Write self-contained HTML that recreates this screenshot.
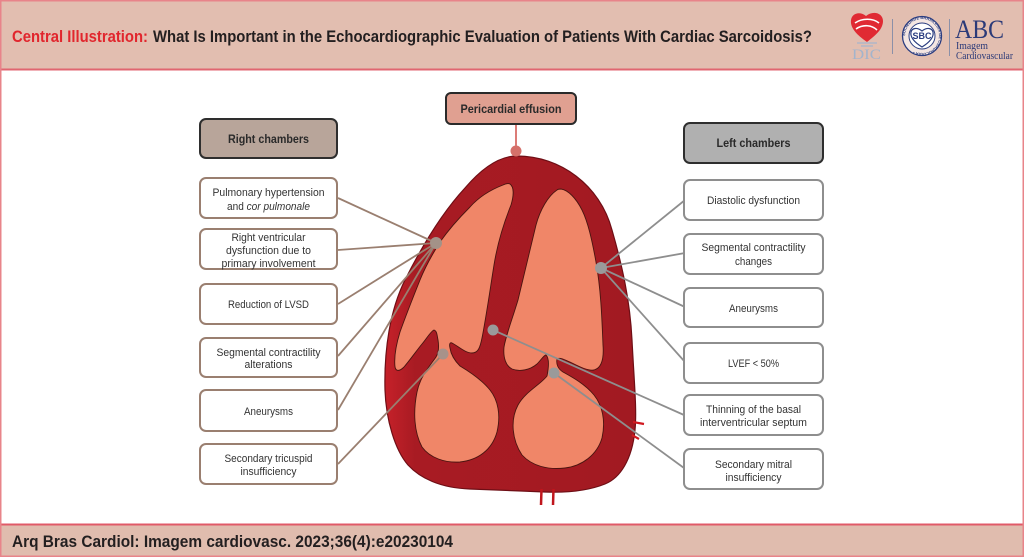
<!DOCTYPE html>
<html>
<head>
<meta charset="utf-8">
<style>
html,body{margin:0;padding:0;background:#fff;}
body{width:1024px;height:557px;overflow:hidden;}
svg{display:block;}
</style>
</head>
<body>
<svg width="1024" height="557" viewBox="0 0 1024 557" xmlns="http://www.w3.org/2000/svg" font-family="'Liberation Sans', sans-serif">
  <defs>
    <linearGradient id="hg" x1="0" y1="0" x2="1" y2="0">
      <stop offset="0" stop-color="#c62129"/>
      <stop offset="0.12" stop-color="#a81b23"/>
      <stop offset="1" stop-color="#a21a22"/>
    </linearGradient>
    <path id="ring" d="M905,36 A17,17 0 1,1 939,36 A17,17 0 1,1 905,36"/>
  </defs>

  <!-- background & frame -->
  <rect x="0" y="0" width="1024" height="557" fill="#fff"/>
  <rect x="0" y="0" width="1024" height="69" fill="#e2beb0"/>
  <line x1="0" y1="69.5" x2="1024" y2="69.5" stroke="#e06670" stroke-width="2"/>
  <rect x="0" y="525" width="1024" height="32" fill="#e0bcae"/>
  <line x1="0" y1="524.5" x2="1024" y2="524.5" stroke="#e05a68" stroke-width="2"/>
  <rect x="0.75" y="0.75" width="1022.5" height="555.5" fill="none" stroke="#e8848a" stroke-width="1.5"/>

  <!-- title -->
  <text x="12" y="42" font-size="17" font-weight="bold" fill="#e1262d" textLength="136" lengthAdjust="spacingAndGlyphs">Central Illustration:</text>
  <text x="153" y="42" font-size="17" font-weight="bold" fill="#231f20" textLength="659" lengthAdjust="spacingAndGlyphs">What Is Important in the Echocardiographic Evaluation of Patients With Cardiac Sarcoidosis?</text>

  <!-- logos -->
  <path d="M867,42 C857,35 850,28 851,20 C852,13 860,11 866,16 C873,10 883,13 883,21 C883,29 876,35 867,42 Z" fill="#e02a33"/>
  <path d="M855,23 C862,18 873,18 879,23 M856,29 C863,24 872,25 877,30" stroke="#fff" stroke-width="1.6" fill="none"/>
  <path d="M857,43 L877,43 M861,46 L873,46" stroke="#a6b5cc" stroke-width="1.2"/>
  <text x="852" y="59" font-family="'Liberation Serif', serif" font-size="15" fill="#a3b4cc" textLength="29" lengthAdjust="spacingAndGlyphs">DIC</text>
  <line x1="892.5" y1="19" x2="892.5" y2="54" stroke="#8b90a8" stroke-width="1"/>
  <circle cx="922" cy="36" r="19.5" fill="#f4e6e2" stroke="#2b3d80" stroke-width="1.3"/>
  <circle cx="922" cy="36" r="13" fill="#fff" stroke="#2b3d80" stroke-width="1"/>
  <text font-size="4" font-weight="bold" fill="#2b3d80"><textPath href="#ring">SOCIEDADE BRASILEIRA DE CARDIOLOGIA •</textPath></text>
  <path d="M922,47 C914,42 910,37 911,32 C912,28 917,27 922,31 C927,27 932,28 933,32 C934,37 930,42 922,47 Z" fill="none" stroke="#2b3d80" stroke-width="1.2"/>
  <text x="922" y="39" font-size="9" font-weight="bold" fill="#2b3d80" text-anchor="middle">SBC</text>
  <line x1="949.5" y1="19" x2="949.5" y2="56" stroke="#8b90a8" stroke-width="1"/>
  <text x="955" y="38" font-family="'Liberation Serif', serif" font-size="26" fill="#2b3a78" textLength="49" lengthAdjust="spacingAndGlyphs">ABC</text>
  <text x="956" y="49" font-family="'Liberation Serif', serif" font-size="10" fill="#2b3a78" textLength="32" lengthAdjust="spacingAndGlyphs">Imagem</text>
  <text x="956" y="59" font-family="'Liberation Serif', serif" font-size="10" fill="#2b3a78" textLength="57" lengthAdjust="spacingAndGlyphs">Cardiovascular</text>

  <!-- footer -->
  <text x="12" y="547" font-size="17" font-weight="bold" fill="#231f20" textLength="441" lengthAdjust="spacingAndGlyphs">Arq Bras Cardiol: Imagem cardiovasc. 2023;36(4):e20230104</text>

  <!-- heart -->
  <path d="M517,156 C560,156 600,185 612,230 C622,265 630,300 632,340 C634,380 637,410 635,430 C632,460 620,478 605,484 C590,490 570,493 545,492 C520,491 500,490 470,489 C440,488 420,478 408,465 C395,450 386,420 385,390 C384,350 390,310 405,280 C420,250 440,215 465,188 C482,168 500,156 517,156 Z" fill="url(#hg)" stroke="#6e0e15" stroke-width="1.2"/>
  <!-- vessels -->
  <path d="M541.5,489 L541,505 M553.5,489 L553,505" stroke="#c0161d" stroke-width="2.5"/>
  <path d="M633,422 L644,424 M632,435 L639,439" stroke="#d0181f" stroke-width="2.2"/>

  <!-- right ventricle + atrium (left in image) -->
  <path d="M503,185 C490,190 478,198 470,207 C455,222 447,232 440,242 C430,258 424,270 420,280 C412,300 405,318 400,332 C396,345 394,358 395,367 C396,372 400,371 404,367 C410,360 417,350 422,344 C427,338 431,331 434,330 C437,331 437,335 438,340 C439,346 439,352 436,357 C429,367 420,377 417,392 C413,412 414,432 422,447 C430,458 445,463 460,462 C478,460 492,450 497,432 C501,415 498,400 490,390 C482,380 470,372 460,366 C455,361 451,355 450,348 C449,344 450,342 452,343 C458,346 465,353 472,353 C478,353 480,348 482,338 C486,318 490,290 494,265 C498,240 505,220 511,205 C514,195 514,187 510,184 C508,183 505,184 503,185 Z" fill="#f08668" stroke="#4a1410" stroke-width="0.9"/>
  <!-- left ventricle + atrium (right in image) -->
  <path d="M557,190 C548,196 540,210 536,225 C530,250 524,275 518,300 C512,320 506,335 504,347 C503,358 506,366 512,369 C520,372 530,370 537,364 C541,360 544,355 546,355 C549,358 549,366 547,376 C540,385 525,392 518,405 C510,420 512,440 522,455 C532,466 548,470 565,468 C582,466 597,455 602,438 C606,420 602,405 594,395 C585,384 572,377 563,372 C558,369 556,364 557,359 C560,357 565,360 572,363 C580,367 588,371 594,370 C602,368 604,358 603,345 C602,320 601,290 596,262 C592,240 588,222 582,210 C576,198 568,190 561,189 C559,189 558,189 557,190 Z" fill="#f08668" stroke="#4a1410" stroke-width="0.9"/>

  <!-- connectors left -->
  <g stroke="#9a7f70" stroke-width="1.8" fill="none">
    <line x1="338" y1="198" x2="436" y2="243"/>
    <line x1="338" y1="250" x2="436" y2="243"/>
    <line x1="338" y1="304" x2="436" y2="243"/>
    <line x1="338" y1="356" x2="436" y2="243"/>
    <line x1="338" y1="410" x2="436" y2="243"/>
    <line x1="338" y1="464" x2="443" y2="354"/>
  </g>
  <!-- connectors right -->
  <g stroke="#8e8e8e" stroke-width="1.8" fill="none">
    <line x1="685" y1="200" x2="601" y2="268"/>
    <line x1="685" y1="253" x2="601" y2="268"/>
    <line x1="685" y1="307" x2="601" y2="268"/>
    <line x1="685" y1="362" x2="601" y2="268"/>
    <line x1="684" y1="415" x2="493" y2="330"/>
    <line x1="684" y1="468" x2="554" y2="373"/>
  </g>
  <!-- pericardial connector -->
  <line x1="516" y1="124" x2="516" y2="151" stroke="#d86e68" stroke-width="1.8"/>
  <circle cx="516" cy="151" r="5.5" fill="#d5706a"/>
  <!-- dots -->
  <circle cx="436" cy="243" r="6" fill="#a39288"/>
  <circle cx="443" cy="354" r="5.5" fill="#a8928a"/>
  <circle cx="493" cy="330" r="5.5" fill="#9a9a9a"/>
  <circle cx="554" cy="373" r="5.5" fill="#9a9a9a"/>
  <circle cx="601" cy="268" r="6" fill="#9a9a9a"/>

  <!-- header boxes -->
  <rect x="446" y="93" width="130" height="31" rx="5" fill="#e0a091" stroke="#2a2a2a" stroke-width="2"/>
  <text x="511" y="113" font-size="12" font-weight="bold" fill="#2a2a2a" text-anchor="middle" textLength="101" lengthAdjust="spacingAndGlyphs">Pericardial effusion</text>

  <rect x="200" y="119" width="137" height="39" rx="6" fill="#b8a59a" stroke="#2e2e2e" stroke-width="2"/>
  <text x="268.5" y="143" font-size="12" font-weight="bold" fill="#2a2a2a" text-anchor="middle" textLength="81" lengthAdjust="spacingAndGlyphs">Right chambers</text>

  <rect x="684" y="123" width="139" height="40" rx="6" fill="#b0b0b0" stroke="#2e2e2e" stroke-width="2"/>
  <text x="753.5" y="147" font-size="12" font-weight="bold" fill="#2a2a2a" text-anchor="middle" textLength="74" lengthAdjust="spacingAndGlyphs">Left chambers</text>

  <!-- left boxes -->
  <g fill="#fff" stroke="#9a7f70" stroke-width="2">
    <rect x="200" y="178" width="137" height="40" rx="6"/>
    <rect x="200" y="229" width="137" height="40" rx="6"/>
    <rect x="200" y="284" width="137" height="40" rx="6"/>
    <rect x="200" y="338" width="137" height="39" rx="6"/>
    <rect x="200" y="390" width="137" height="41" rx="6"/>
    <rect x="200" y="444" width="137" height="40" rx="6"/>
  </g>
  <g font-size="11" fill="#333" text-anchor="middle">
    <text x="268.5" y="196" textLength="112" lengthAdjust="spacingAndGlyphs">Pulmonary hypertension</text>
    <text x="268.5" y="210" textLength="83" lengthAdjust="spacingAndGlyphs">and <tspan font-style="italic">cor pulmonale</tspan></text>
    <text x="268.5" y="241" textLength="74" lengthAdjust="spacingAndGlyphs">Right ventricular</text>
    <text x="268.5" y="254" textLength="85" lengthAdjust="spacingAndGlyphs">dysfunction due to</text>
    <text x="268.5" y="267" textLength="94" lengthAdjust="spacingAndGlyphs">primary involvement</text>
    <text x="268.5" y="308" textLength="81" lengthAdjust="spacingAndGlyphs">Reduction of LVSD</text>
    <text x="268.5" y="356" textLength="104" lengthAdjust="spacingAndGlyphs">Segmental contractility</text>
    <text x="268.5" y="368" textLength="48" lengthAdjust="spacingAndGlyphs">alterations</text>
    <text x="268.5" y="415" textLength="49" lengthAdjust="spacingAndGlyphs">Aneurysms</text>
    <text x="268.5" y="462" textLength="88" lengthAdjust="spacingAndGlyphs">Secondary tricuspid</text>
    <text x="268.5" y="475" textLength="56" lengthAdjust="spacingAndGlyphs">insufficiency</text>
  </g>

  <!-- right boxes -->
  <g fill="#fff" stroke="#8e8e8e" stroke-width="2">
    <rect x="684" y="180" width="139" height="40" rx="6"/>
    <rect x="684" y="234" width="139" height="40" rx="6"/>
    <rect x="684" y="288" width="139" height="39" rx="6"/>
    <rect x="684" y="343" width="139" height="40" rx="6"/>
    <rect x="684" y="395" width="139" height="40" rx="6"/>
    <rect x="684" y="449" width="139" height="40" rx="6"/>
  </g>
  <g font-size="11" fill="#333" text-anchor="middle">
    <text x="753.5" y="204" textLength="93" lengthAdjust="spacingAndGlyphs">Diastolic dysfunction</text>
    <text x="753.5" y="251" textLength="104" lengthAdjust="spacingAndGlyphs">Segmental contractility</text>
    <text x="753.5" y="265" textLength="37" lengthAdjust="spacingAndGlyphs">changes</text>
    <text x="753.5" y="312" textLength="49" lengthAdjust="spacingAndGlyphs">Aneurysms</text>
    <text x="753.5" y="367" textLength="51" lengthAdjust="spacingAndGlyphs">LVEF &lt; 50%</text>
    <text x="753.5" y="413" textLength="95" lengthAdjust="spacingAndGlyphs">Thinning of the basal</text>
    <text x="753.5" y="426" textLength="107" lengthAdjust="spacingAndGlyphs">interventricular septum</text>
    <text x="753.5" y="468" textLength="77" lengthAdjust="spacingAndGlyphs">Secondary mitral</text>
    <text x="753.5" y="481" textLength="56" lengthAdjust="spacingAndGlyphs">insufficiency</text>
  </g>
</svg>
</body>
</html>
